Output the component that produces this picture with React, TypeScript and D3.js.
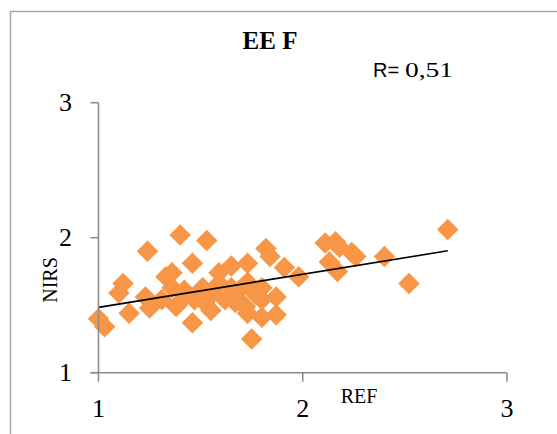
import React from 'react'
import * as d3 from 'd3'

// REF / NIRS pairs
const refValues = [
  1.00, 1.03, 1.10, 1.12, 1.15, 1.23, 1.24, 1.25, 1.31, 1.33,
  1.36, 1.36, 1.38, 1.41, 1.40, 1.46, 1.46, 1.53, 1.51, 1.52,
  1.47, 1.56, 1.59, 1.59, 1.62, 1.65, 1.65, 1.68, 1.72, 1.73,
  1.73, 1.73, 1.75, 1.80, 1.80, 1.80, 1.82, 1.84, 1.87, 1.87,
  1.91, 1.98, 2.11, 2.16, 2.18, 2.24, 2.26, 2.13, 2.17, 2.40,
  2.52, 2.71, 1.67, 1.55, 1.42, 1.69, 1.77
]
const nirsValues = [
  1.40, 1.34, 1.59, 1.66, 1.44, 1.56, 1.90, 1.48, 1.54, 1.71,
  1.74, 1.63, 1.49, 1.54, 2.02, 1.81, 1.37, 1.98, 1.63, 1.52,
  1.54, 1.59, 1.74, 1.66, 1.54, 1.79, 1.63, 1.54, 1.49, 1.81,
  1.67, 1.44, 1.25, 1.63, 1.54, 1.41, 1.92, 1.86, 1.56, 1.43,
  1.78, 1.71, 1.96, 1.97, 1.93, 1.89, 1.86, 1.82, 1.75, 1.86,
  1.66, 2.06, 1.52, 1.46, 1.61, 1.61, 1.58
]
const xTicks = [1, 2, 3]
const yTicks = [1, 2, 3]
const trendIntercept = 1.239
const trendSlope = 0.245

const W = 557
const H = 434

export default function App() {
  const x = d3.scaleLinear().domain([1, 3]).range([98.5, 507])
  const y = d3.scaleLinear().domain([1, 3]).range([372.7, 102.7])

  const points = refValues.map((r, i) => ({ r, n: nirsValues[i] }))
  const diamond = d3.symbol().type(d3.symbolSquare).size(232)()
  const [x0, x1] = d3.extent(refValues) as [number, number]
  const trend = d3.line<number>()
    .x(d => x(d))
    .y(d => y(trendIntercept + trendSlope * d))([x0, x1])

  const axisColor = '#8c8c8c'
  const serif = "'Liberation Serif', 'Times New Roman', serif"
  const sans = "'Liberation Sans', Arial, sans-serif"

  return (
    <div style={{ position: 'absolute', left: 0, top: 0 }}>
      <svg width={W} height={H} style={{ display: 'block', fontFamily: serif }}>
        <rect x={0} y={0} width={W} height={H} fill="white" />
        <rect x={10.5} y={11.5} width={700} height={600} fill="none" stroke="#a6a6a6" strokeWidth={1.5} />

        <text x={270} y={49} textAnchor="middle" fontWeight="bold" fontSize={25} textLength={55}>EE F</text>
        <text x={373} y={77} style={{ fontFamily: sans, fontSize: 20 }}>R=</text>
        <text x={405} y={77} fontSize={22} textLength={48} lengthAdjust="spacingAndGlyphs">0,51</text>

        {points.map((d, i) => (
          <path key={i} d={diamond} fill="#f79646"
            transform={`translate(${x(d.r)},${y(d.n)}) rotate(45)`} />
        ))}

        <path d={trend ?? ''} fill="none" stroke="black" strokeWidth={1.6} />

        {/* y axis */}
        <line x1={x(1)} x2={x(1)} y1={y(3)} y2={y(1)} stroke={axisColor} strokeWidth={1.6} />
        {yTicks.map(t => (
          <g key={t}>
            <line x1={x(1) - 8} x2={x(1)} y1={y(t)} y2={y(t)} stroke={axisColor} strokeWidth={1.6} />
            <text x={72} y={y(t) + 8} textAnchor="end" fontSize={26}>{t}</text>
          </g>
        ))}

        {/* x axis */}
        <line x1={x(1) - 8} x2={x(3)} y1={y(1)} y2={y(1)} stroke={axisColor} strokeWidth={1.6} />
        {xTicks.map(t => (
          <g key={t}>
            <line x1={x(t)} x2={x(t)} y1={y(1)} y2={y(1) + 9} stroke={axisColor} strokeWidth={1.6} />
            <text x={x(t)} y={417} textAnchor="middle" fontSize={26}>{t}</text>
          </g>
        ))}

        <text x={359} y={403} textAnchor="middle" fontSize={20}>REF</text>
        <text transform="translate(57,280) rotate(-90)" textAnchor="middle" fontSize={20}>NIRS</text>
      </svg>
    </div>
  )
}
